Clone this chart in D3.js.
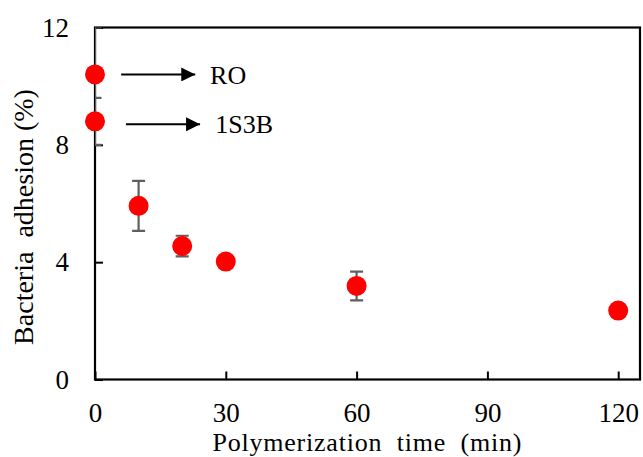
<!DOCTYPE html>
<html>
<head>
<meta charset="utf-8">
<script src="https://cdn.jsdelivr.net/npm/d3@7"></script>
</head>
<body style="margin:0; background:#fff">
<div id="chart"></div>
<script>
// polymerization time (min) and adhesion (%) with error
const times = [0, 0, 10, 20, 30, 60, 120];
const adhesion = [10.4, 8.8, 5.92, 4.55, 4.02, 3.19, 2.35];
const errors = [1.6, 0.8, 0.85, 0.35, 0.05, 0.49, 0.05];

// arrows pointing from the two reference points to their labels
const refLabels = ["RO", "1S3B"];
const refArrowY = [10.4, 8.7];
const refArrowStart = [6, 7.1];
const refArrowEnd = [23.0, 24.1];
const refTextX = [26.4, 27.6];

const xTicks = [0, 30, 60, 90, 120];
const yTicks = [0, 4, 8, 12];

const width = 643;
const height = 457;
const serif = '"Liberation Serif"';

const x = d3.scaleLinear().domain([0, 125]).range([95, 640]);
const y = d3.scaleLinear().domain([0, 12]).range([379.5, 27.5]);

const svg = d3.select("#chart")
    .append("svg")
    .attr("width", width)
    .attr("height", height);

svg.append("defs").append("clipPath")
    .attr("id", "plot-clip")
    .append("rect")
    .attr("x", x.range()[0])
    .attr("y", y.range()[1])
    .attr("width", x.range()[1] - x.range()[0])
    .attr("height", y.range()[0] - y.range()[1]);

// axes with ticks pointing inwards
const xAxis = svg.append("g")
    .attr("transform", `translate(0,${y(0)})`)
    .call(d3.axisBottom(x).tickValues(xTicks).tickSizeInner(-8).tickSizeOuter(0).tickPadding(23));
const yAxis = svg.append("g")
    .attr("transform", `translate(${x(0)},0)`)
    .call(d3.axisLeft(y).tickValues(yTicks).tickSizeInner(-8).tickSizeOuter(0).tickPadding(26));

[xAxis, yAxis].forEach(g => {
    g.attr("font-family", null).attr("font-size", null);
    g.select(".domain").remove();
    g.selectAll("line").attr("stroke", "#000").attr("stroke-width", 2);
    g.selectAll("text")
        .style("font-family", serif)
        .style("font-size", "27px")
        .attr("fill", "#000");
});

// plot frame
svg.append("rect")
    .attr("x", x.range()[0])
    .attr("y", y.range()[1])
    .attr("width", x.range()[1] - x.range()[0])
    .attr("height", y.range()[0] - y.range()[1])
    .attr("fill", "none")
    .attr("stroke", "#000")
    .attr("stroke-width", 2.2);

// error bars
const points = times.map((t, i) => ({t, v: adhesion[i], e: errors[i]}));
const errG = svg.append("g")
    .attr("clip-path", "url(#plot-clip)")
    .attr("stroke", "#5f5f5f")
    .attr("stroke-width", 2.2);

points.forEach(d => {
    errG.append("line")
        .attr("x1", x(d.t)).attr("x2", x(d.t))
        .attr("y1", y(d.v + d.e)).attr("y2", y(d.v - d.e));
    [d.v + d.e, d.v - d.e].forEach(v => {
        errG.append("line")
            .attr("x1", x(d.t) - 6.5).attr("x2", x(d.t) + 6.5)
            .attr("y1", y(v)).attr("y2", y(v));
    });
});

// markers
svg.append("g").selectAll("circle")
    .data(points)
    .enter()
    .append("circle")
    .attr("cx", d => x(d.t))
    .attr("cy", d => y(d.v))
    .attr("r", 10)
    .attr("fill", "#ff0000");

// arrows to RO / 1S3B
svg.append("defs").append("marker")
    .attr("id", "head")
    .attr("viewBox", "0 0 10 10")
    .attr("refX", 10).attr("refY", 5)
    .attr("markerWidth", 17).attr("markerHeight", 14)
    .attr("markerUnits", "userSpaceOnUse")
    .attr("orient", "auto")
    .append("path")
    .attr("d", "M0,0L10,5L0,10Z")
    .attr("fill", "#000");

refLabels.forEach((lab, i) => {
    svg.append("line")
        .attr("x1", x(refArrowStart[i]))
        .attr("x2", x(refArrowEnd[i]))
        .attr("y1", y(refArrowY[i]))
        .attr("y2", y(refArrowY[i]))
        .attr("stroke", "#000")
        .attr("stroke-width", 2)
        .attr("marker-end", "url(#head)");
    svg.append("text")
        .attr("x", x(refTextX[i]))
        .attr("y", y(refArrowY[i]))
        .attr("dy", "0.35em")
        .style("font-family", serif)
        .style("font-size", "26px")
        .text(lab);
});

// axis titles
svg.append("text")
    .attr("x", 367)
    .attr("y", 451)
    .attr("text-anchor", "middle")
    .attr("textLength", 309)
    .attr("lengthAdjust", "spacing")
    .style("font-family", serif)
    .style("font-size", "26px")
    .style("white-space", "pre")
    .text("Polymerization  time  (min)");

svg.append("text")
    .attr("transform", "translate(33,217) rotate(-90)")
    .attr("text-anchor", "middle")
    .style("font-family", serif)
    .style("font-size", "28px")
    .style("white-space", "pre")
    .text("Bacteria  adhesion (%)");
</script>
</body>
</html>
